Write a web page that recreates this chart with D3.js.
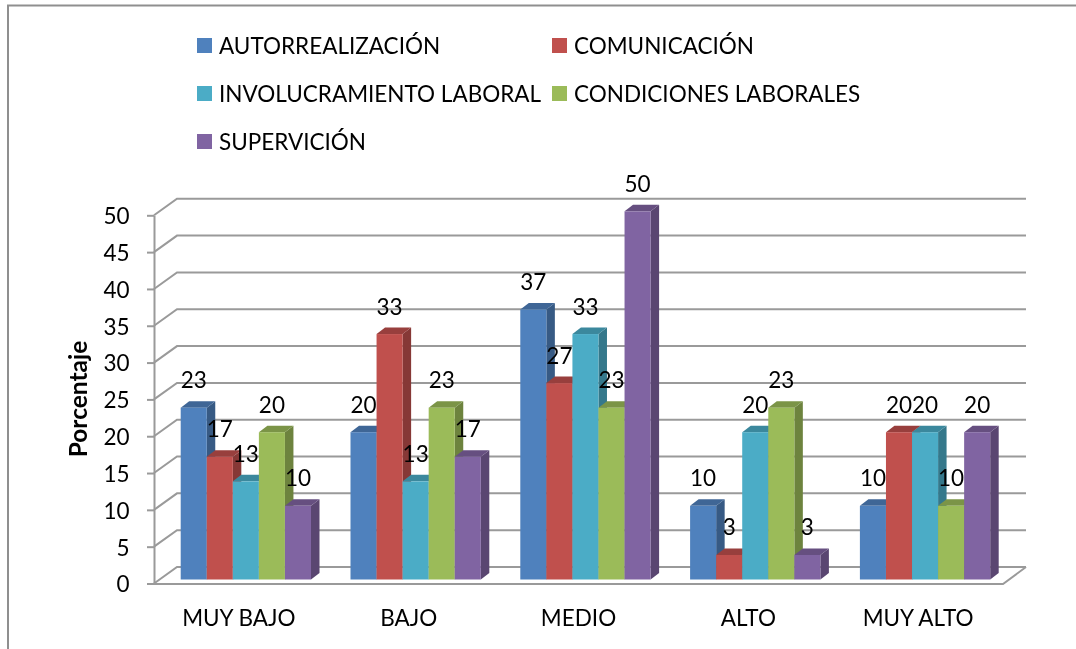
<!DOCTYPE html>
<html><head><meta charset="utf-8">
<script src="https://cdn.jsdelivr.net/npm/d3@7/dist/d3.min.js"></script>
<style>html,body{margin:0;padding:0;background:#fff;overflow:hidden}svg{display:block;filter:blur(0.35px)}text{font-family:Lato,"Open Sans",sans-serif;fill:#000}</style>
</head><body><svg id="c" width="1076" height="649"></svg>
<script>
const categories = ["MUY BAJO","BAJO","MEDIO","ALTO","MUY ALTO"];
const seriesNames = ["AUTORREALIZACIÓN","COMUNICACIÓN","INVOLUCRAMIENTO LABORAL","CONDICIONES LABORALES","SUPERVICIÓN"];
const autorrealizacion = [23.33,20,36.67,10,10];
const comunicacion = [16.67,33.33,26.67,3.33,20];
const involucramiento = [13.33,13.33,33.33,20,20];
const condiciones = [20,23.33,23.33,23.33,10];
const supervicion = [10,16.67,50,3.33,20];
const seriesValues = [autorrealizacion,comunicacion,involucramiento,condiciones,supervicion];
const colors = ["#4F81BD","#C0504D","#4BACC6","#9BBB59","#8064A2"];
const yTicks = [0,5,10,15,20,25,30,35,40,45,50];

const svg = d3.select("#c");
const grid = "#9a9a9a";
const fs = 22.5;
const y = d3.scaleLinear().domain([0,50]).range([583.5,215.3]);
const x = d3.scaleBand().domain(categories).range([154,1003]);
const inner = d3.scaleBand().domain(d3.range(5)).range([26.7,157]);
const wallDx = 23, wallDy = -16.5;   // wall depth
const barDx = 8.5, barDy = -6.5;     // bar depth
const barLift = -4;                  // bars stand slightly behind the front edge

// frame
svg.append("path").attr("d","M8,649V5.5H1076").attr("fill","none").attr("stroke","#8f8f8f").attr("stroke-width",2);

// gridlines on the wall
const g = svg.append("g").attr("fill","none").attr("stroke",grid).attr("stroke-width",2);
yTicks.forEach(t=>{
  g.append("path").attr("d",d3.line()([[154,y(t)],[154+wallDx,y(t)+wallDy],[1003+wallDx,y(t)+wallDy]]));
});
// floor
g.append("path").attr("d",d3.line()([[154,y(0)+0.5],[1003,y(0)+0.5],[1003+wallDx,y(0)+wallDy]]));

// axis
const axis = d3.axisLeft(y).tickValues(yTicks).tickSize(7).tickPadding(17.5).tickSizeOuter(0);
const ag = svg.append("g").attr("transform","translate(154,0)").call(axis);
ag.selectAll("path,line").attr("stroke",grid).attr("stroke-width",2);
ag.selectAll("text").style("font-size",fs+"px").attr("dy","0.37em");

// bars
const bw = inner.bandwidth();
categories.forEach((c,ci)=>{
  seriesValues.forEach((vals,si)=>{
    const v = vals[ci];
    const x0 = x(c)+inner(si), x1 = x0+bw;
    const yb = y(0)+barLift, yt = y(v)+barLift;
    const col = colors[si];
    const bg = svg.append("g");
    bg.append("path").datum(v).attr("fill",d3.color(col).darker(1))
      .attr("d",d3.line()([[x1,yt],[x1+barDx,yt+barDy],[x1+barDx,yb+barDy],[x1,yb]]));
    bg.append("path").attr("fill",d3.color(col).darker(0.65))
      .attr("d",d3.line()([[x0,yt],[x0+barDx,yt+barDy],[x1+barDx,yt+barDy],[x1,yt]]));
    bg.append("rect").attr("x",x0).attr("y",yt).attr("width",bw).attr("height",yb-yt).attr("fill",col);
  });
});
// value labels on top
const fmt = d3.format(".0f");
categories.forEach((c,ci)=>{
  seriesValues.forEach((vals,si)=>{
    svg.append("text").attr("x",x(c)+inner(si)+bw/2).attr("y",y(vals[ci])+barLift-19.5)
      .attr("text-anchor","middle").style("font-size",fs+"px").text(fmt(vals[ci]));
  });
});
// category labels
categories.forEach(c=>{
  svg.append("text").attr("x",x(c)+x.bandwidth()/2).attr("y",626).attr("text-anchor","middle").style("font-size",fs+"px").text(c);
});
// y title
svg.append("text").attr("transform","translate(87,399) rotate(-90)").attr("text-anchor","middle")
  .style("font-size","24.5px").style("font-weight","700").text("Porcentaje");
// legend
const legendX = d3.scalePoint().domain([0,1]).range([197,552]);
const legendY = d3.scalePoint().domain([0,1,2]).range([38,134]);
seriesNames.forEach((n,i)=>{
  const lx = legendX(i%2), ly = legendY(Math.floor(i/2));
  svg.append("rect").attr("x",lx).attr("y",ly).attr("width",15).attr("height",15).attr("fill",colors[i]);
  svg.append("text").attr("x",lx+22).attr("y",ly+15.5).style("font-size",fs+"px").text(n);
});
</script></body></html>
